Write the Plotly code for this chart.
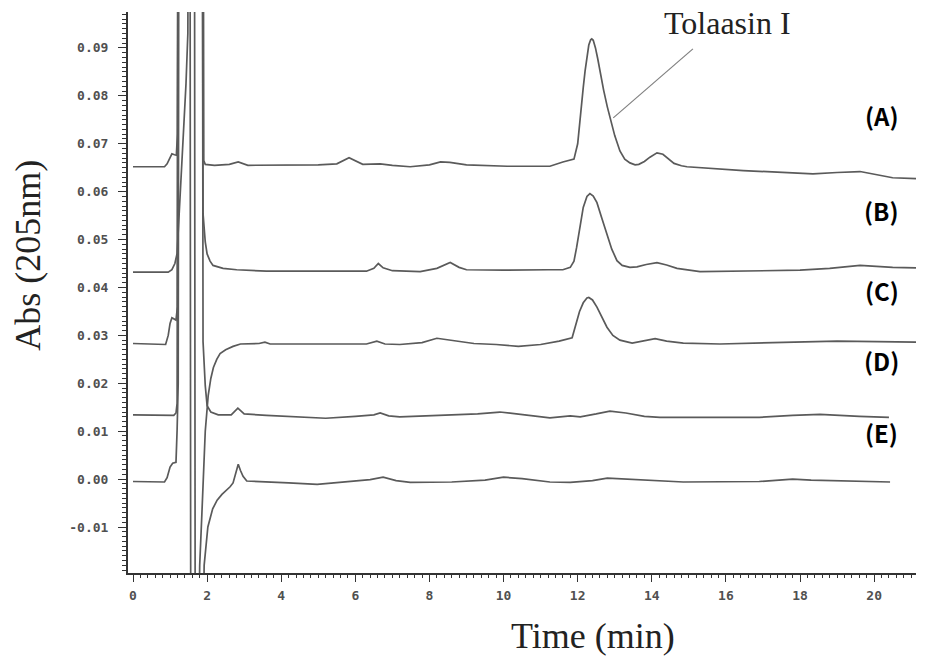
import plotly.graph_objects as go

# ---------------- data ----------------
A_t = [0, 0.85, 0.92, 1.0, 1.05, 1.12, 1.17, 1.2, 1.23, 1.88, 1.91, 1.95, 2.2, 2.6, 2.84, 3.1, 4.0,
       5.0, 5.5, 5.83, 6.2, 6.67, 7.0, 7.48, 8.0, 8.3, 8.55, 9.0, 10.1, 11.25, 11.6, 11.9,
       12.0, 12.05, 12.1, 12.15, 12.2, 12.25, 12.3, 12.35, 12.38, 12.42, 12.48, 12.54, 12.6,
       12.7, 12.8, 12.9, 13.0, 13.14, 13.27, 13.41, 13.55, 13.65, 13.8, 13.95, 14.14, 14.3,
       14.45, 14.6, 14.8, 14.95, 16.47, 18.35, 19.0, 19.62, 20.5, 21.13]
A_y = [0.0652, 0.0652, 0.0658, 0.0672, 0.0679, 0.0677, 0.0676, 0.0720, 0.2, 0.2, 0.0665, 0.0657,
       0.0655, 0.0657, 0.0662, 0.0655, 0.0655, 0.0656, 0.0658, 0.0671, 0.0657, 0.0658, 0.0655,
       0.0652, 0.0656, 0.0662, 0.0661, 0.0656, 0.0653, 0.0653, 0.0662, 0.0668,
       0.0700, 0.0745, 0.0785, 0.0817, 0.0852, 0.0884, 0.0906, 0.0917, 0.0919, 0.0916, 0.0900,
       0.0878, 0.0852, 0.0812, 0.0777, 0.0745, 0.0717, 0.0685, 0.0668, 0.0660, 0.0656, 0.0657,
       0.0663, 0.0672, 0.0681, 0.0678, 0.0668, 0.0659, 0.0654, 0.0652, 0.0644, 0.0637, 0.0640,
       0.0642, 0.0629, 0.0627]

B_t = [0, 0.95, 1.05, 1.13, 1.19, 1.32, 1.43, 1.48, 1.52, 1.86, 1.89, 1.95, 2.0, 2.08, 2.16, 2.43,
       2.8, 3.6, 5.0, 6.3, 6.5, 6.62, 6.75, 7.0, 7.75, 8.2, 8.56, 8.8, 9.0, 10.0, 11.2, 11.6,
       11.8, 11.9, 11.97, 12.05, 12.15, 12.25, 12.33, 12.42, 12.52, 12.65, 12.79, 12.92, 13.06,
       13.2, 13.41, 13.6, 13.85, 14.14, 14.4, 14.68, 15.3, 16.5, 18.0, 18.8, 19.62, 20.5, 21.13]
B_y = [0.0432, 0.0432, 0.0437, 0.0450, 0.0471, 0.0650, 0.0825, 0.0930, 0.2, 0.2, 0.0554, 0.0495,
       0.0470, 0.0455, 0.0446, 0.0440, 0.0437, 0.0434, 0.0434, 0.0434, 0.0440, 0.0450, 0.0441,
       0.0435, 0.0433, 0.0440, 0.0452, 0.0442, 0.0437, 0.0436, 0.0437, 0.0437,
       0.0442, 0.0455, 0.0483, 0.0525, 0.0567, 0.0590, 0.0596, 0.0591, 0.0577, 0.0545, 0.0512,
       0.0480, 0.0456, 0.0446, 0.0442, 0.0443, 0.0448, 0.0452, 0.0447, 0.0440, 0.0433, 0.0435,
       0.0436, 0.0440, 0.0446, 0.0442, 0.0441]

C_t = [0, 0.88, 0.95, 1.0, 1.05, 1.1, 1.16, 1.2, 1.23, 1.53, 1.56, 1.74, 1.8, 1.86, 1.95, 2.03,
       2.1, 2.17, 2.26, 2.35, 2.5, 2.7, 2.9, 3.4, 3.56, 3.7, 4.5, 5.5, 6.3, 6.58, 6.8, 7.2, 7.8,
       8.2, 8.5, 9.2, 9.8, 10.4, 11.0, 11.5, 11.85, 11.95, 12.05, 12.15, 12.25, 12.3, 12.4,
       12.52, 12.65, 12.79, 12.95, 13.14, 13.47, 13.8, 14.09, 14.4, 14.85, 15.84, 16.9, 18.0,
       19.0, 20.08, 21.13]
C_y = [0.0283, 0.0281, 0.0300, 0.0325, 0.0337, 0.0335, 0.0332, 0.0360, 0.2, 0.2, -0.05, -0.05,
       -0.018, -0.007, 0.0100, 0.0175, 0.0210, 0.0233, 0.0250, 0.0262, 0.0270, 0.0277, 0.0282,
       0.0283, 0.0286, 0.0282, 0.0282, 0.0281, 0.0282, 0.0288, 0.0282, 0.0281, 0.0285, 0.0294,
       0.0291, 0.0283, 0.0281, 0.0277, 0.0281, 0.0288, 0.0295, 0.0320, 0.0350, 0.0368, 0.0378,
       0.0379, 0.0374, 0.0359, 0.0337, 0.0317, 0.0300, 0.0290, 0.0284, 0.0288, 0.0293, 0.0288,
       0.0284, 0.0282, 0.0284, 0.0285, 0.0288, 0.0287, 0.0286]

D_t = [0, 1.1, 1.16, 1.19, 1.23, 1.86, 1.89, 1.95, 2.0, 2.1, 2.3, 2.65, 2.83, 3.0, 3.6, 4.5, 5.2,
       6.0, 6.5, 6.67, 6.9, 7.2, 8.47, 9.3, 9.9, 10.6, 11.25, 11.8, 12.07, 12.5, 12.87, 13.3,
       13.8, 14.22, 16.9, 17.8, 18.54, 19.6, 20.4]
D_y = [0.0134, 0.0133, 0.0138, 0.0158, 0.2, 0.2, 0.0287, 0.0195, 0.0153, 0.0140, 0.0134, 0.0134,
       0.0148, 0.0136, 0.0133, 0.0130, 0.0127, 0.0131, 0.0134, 0.0138, 0.0132, 0.0130, 0.0133,
       0.0136, 0.0140, 0.0134, 0.0128, 0.0132, 0.0130, 0.0136, 0.0142, 0.0138, 0.0131, 0.0129,
       0.0129, 0.0133, 0.0135, 0.0131, 0.0129]

E_t = [0, 0.85, 0.92, 1.0, 1.07, 1.16, 1.19, 1.22, 1.25, 1.65, 1.68, 1.87, 1.92, 2.02, 2.15, 2.27,
       2.4, 2.53, 2.62, 2.7, 2.77, 2.84, 2.9, 2.97, 3.07, 3.43, 4.2, 4.97, 5.8, 6.4, 6.75, 7.1,
       7.48, 8.6, 9.5, 10.0, 10.5, 11.25, 11.8, 12.4, 12.8, 13.3, 13.77, 14.85, 16.9, 17.8,
       18.3, 18.9, 20.43]
E_y = [-0.0005, -0.0006, 0.0003, 0.0025, 0.0033, 0.0035, 0.0102, 0.0200, 0.2, 0.2, -0.05, -0.05,
       -0.018, -0.0100, -0.0062, -0.0044, -0.0032, -0.0023, -0.0016, -0.0008, 0.0012, 0.0031,
       0.0018, 0.0006, -0.0004, -0.0005, -0.0008, -0.0011, -0.0006, -0.0001, 0.0004, -0.0003,
       -0.0007, -0.0006, -0.0002, 0.0004, 0.0001, -0.0006, -0.0007, -0.0003, 0.0002, 0.0000,
       -0.0002, -0.0006, -0.0005, 0.0000, -0.0002, -0.0003, -0.0006]

series = {"A": (A_t, A_y), "B": (B_t, B_y), "C": (C_t, C_y), "D": (D_t, D_y), "E": (E_t, E_y)}

trace_labels = ["(A)", "(B)", "(C)", "(D)", "(E)"]
label_x = [20.2, 20.2, 20.2, 20.2, 20.2]
label_y = [0.0760, 0.0560, 0.0394, 0.0248, 0.0098]

y_tickvals = [-0.01, 0.0, 0.01, 0.02, 0.03, 0.04, 0.05, 0.06, 0.07, 0.08, 0.09]
y_ticktext = ["-0.01", "0.00", "0.01", "0.02", "0.03", "0.04", "0.05", "0.06", "0.07", "0.08", "0.09"]
x_tickvals = [0, 2, 4, 6, 8, 10, 12, 14, 16, 18, 20]
x_ticktext = ["0", "2", "4", "6", "8", "10", "12", "14", "16", "18", "20"]

peak_name = "Tolaasin I"
callout_x = [12.96, 15.11]
callout_y = [0.0754, 0.0898]

# ---------------- figure ----------------
LINE = "#5a5a5a"
fig = go.Figure()
for name, (t, y) in series.items():
    fig.add_trace(go.Scatter(x=t, y=y, mode="lines", name=name,
                             line=dict(color=LINE, width=1.7), hoverinfo="skip",
                             showlegend=False))

# callout line
fig.add_trace(go.Scatter(x=callout_x, y=callout_y, mode="lines",
                         line=dict(color="#808080", width=1.2), showlegend=False,
                         hoverinfo="skip"))

tickfont = dict(family="DejaVu Sans Mono", size=13, color="#505050", weight="bold")

fig.update_xaxes(range=[-0.135, 21.13], tickvals=x_tickvals, ticktext=x_ticktext,
                 showgrid=False, zeroline=False, showline=True, linecolor="#333333",
                 linewidth=1.5, ticks="outside", ticklen=7, tickcolor="#333333",
                 tickwidth=1.2, tickfont=tickfont, ticklabelstandoff=3,
                 minor=dict(dtick=0.2, ticks="outside", ticklen=3, tickcolor="#333333",
                            tickwidth=1, showgrid=False))
fig.update_yaxes(range=[-0.0196, 0.0975], tickvals=y_tickvals, ticktext=y_ticktext,
                 showgrid=False, zeroline=False, showline=True, linecolor="#333333",
                 linewidth=2, ticks="outside", ticklen=8, tickcolor="#333333",
                 tickwidth=1.2, tickfont=tickfont, ticklabelstandoff=7,
                 minor=dict(dtick=0.001, ticks="outside", ticklen=4, tickcolor="#333333",
                            tickwidth=1, showgrid=False))

annotations = []
for lab, lx, ly in zip(trace_labels, label_x, label_y):
    annotations.append(dict(x=lx, y=ly, xref="x", yref="y", text=lab, showarrow=False,
                            xanchor="center", yanchor="middle",
                            font=dict(family="Noto Sans CJK JP", size=24, color="#000000",
                                      weight="bold")))
annotations.append(dict(x=16.03, y=0.0952, xref="x", yref="y", text=peak_name, showarrow=False,
                        xanchor="center", yanchor="middle",
                        font=dict(family="Liberation Serif", size=32, color="#222222")))
annotations.append(dict(x=-0.127, y=0.567, xref="paper", yref="paper", text="Abs (205nm)",
                        textangle=-90, showarrow=False, xanchor="center", yanchor="middle",
                        font=dict(family="Liberation Serif", size=36, color="#222222")))
annotations.append(dict(x=0.590, y=-0.112, xref="paper", yref="paper", text="Time (min)",
                        showarrow=False, xanchor="center", yanchor="middle",
                        font=dict(family="Liberation Serif", size=36, color="#222222")))

fig.update_layout(width=928, height=659, margin=dict(l=128, r=12, t=12, b=86),
                  paper_bgcolor="white", plot_bgcolor="white", annotations=annotations)

fig.write_html("out.html")
